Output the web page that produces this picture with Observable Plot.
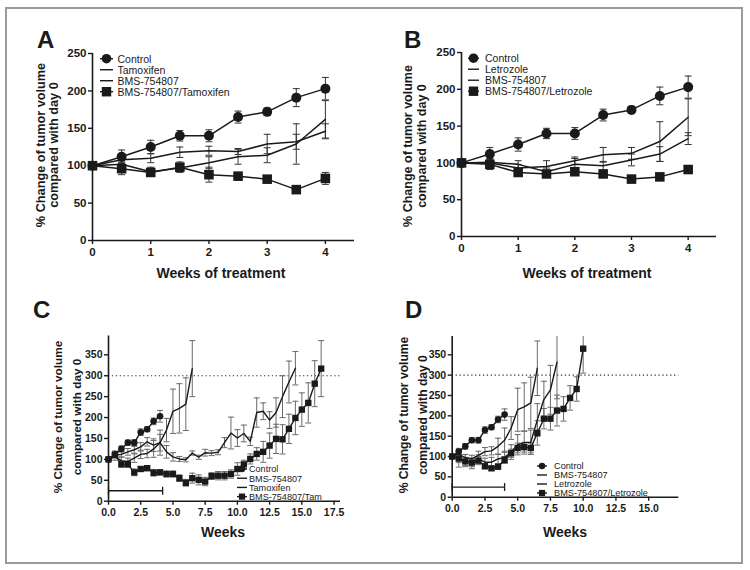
<!DOCTYPE html>
<html><head><meta charset="utf-8">
<script src="https://cdn.jsdelivr.net/npm/d3@7"></script>
<script src="https://cdn.jsdelivr.net/npm/@observablehq/plot@0.6"></script>
<style>
html,body{margin:0;padding:0;background:#fff}
#root{position:relative;width:750px;height:570px;overflow:hidden;font-family:"Liberation Sans",Arial,Helvetica,sans-serif}
#frame{position:absolute;left:5px;top:7px;width:734px;height:553px;border:2px solid #9a9a9a}
#overlay{position:absolute;left:0;top:0;pointer-events:none}
</style></head><body><div id="root"><div id="frame"></div></div>
<script>
// ---------- data ----------
const weeks4 = [0,0.5,1,1.5,2,2.5,3,3.5,4];
const control = [100,112,125,140,140,165,172,191,203];
const controlErr = [0,9,9,7,8,8,5,12,15];

const A_tamoxifen = [100,108,110,118,120,119,129,132,146];
const A_tamoxifenErr = [0,5,6,7,6,4,13,10,10];
const A_bms = [100,102,92,97,104,112,114,129,162];
const A_bmsErr = [0,4,6,5,8,10,10,27,25];
const A_combo = [100,96,91,98,88,86,82,68,83];
const A_comboErr = [0,8,3,7,10,3,3,5,8];

const B_letrozole = [100,101,98,88,98,96,104,112,133];
const B_letrozoleErr = [0,5,5,5,8,6,8,10,8];
const B_bms = [100,100,93,95,103,111,113,129,162];
const B_bmsErr = [0,5,5,8,5,10,8,27,25];
const B_combo = [100,98,87,85,88,85,78,81,91];
const B_comboErr = [0,7,4,4,3,4,4,3,3];

const weeksBms = [0,0.5,1,1.5,2,2.5,3,3.5,4,4.5,5,5.5,6,6.5];
const bmsLong = [100,106,97,95,103,112,114,125,140,170,215,222,232,317];
const bmsLongErr = [0,8,8,8,10,10,10,20,30,28,53,59,63,67];
const controlLongErr = [0,8,7,6,7,8,6,8,14];

const weeksTam = [0,0.5,1,1.5,2,2.5,3,3.5,4,4.5,5,5.5,6,6.5,7,7.5,8,8.5,9,9.5,10,10.5,11,11.5,12,12.5,13,13.5,14,14.5];
const C_tamoxifen = [100,110,112,118,123,130,142,134,140,118,106,101,99,115,105,116,115,117,140,163,151,162,143,212,215,194,212,250,285,318];
const C_tamoxifenErr = [0,6,6,8,8,10,10,15,20,15,10,6,5,5,5,8,6,6,12,38,20,20,10,35,20,20,35,50,50,40];

const weeksComboC = [0,0.5,1,1.5,2,2.5,3,3.5,4,4.5,5,5.5,6,6.5,7,7.5,8,8.5,9,9.5,10,10.5,11,11.5,12,12.5,13,13.5,14,14.5,15,15.5,16,16.5];
const C_combo = [100,111,88,88,69,77,79,68,69,65,65,55,44,55,51,47,60,61,61,65,77,88,101,113,118,133,149,148,173,199,219,235,281,317];
const C_comboErr = [0,6,6,6,8,6,6,8,6,7,7,8,8,12,12,10,8,10,10,10,15,10,12,15,25,30,35,35,35,40,40,48,55,67];

const weeksLet = [0,0.5,1,1.5,2,2.5,3,3.5,4,4.5,5,5.5,6,6.5,7,7.5,8];
const D_letrozole = [100,94,90,82,94,86,86,94,98,111,129,134,135,190,240,264,332];
const D_letrozoleErr = [0,20,15,12,10,10,12,12,15,18,25,28,30,40,45,60,90];

const weeksComboD = [0,0.5,1,1.5,2,2.5,3,3.5,4,4.5,5,5.5,6,6.5,7,7.5,8,8.5,9,9.5,10];
const D_combo = [100,95,88,85,90,76,71,75,92,108,121,123,121,158,193,193,213,217,244,266,365];
const D_comboErr = [0,10,10,10,10,6,5,6,8,10,12,12,12,30,25,28,38,30,30,30,60];

const threshold = 300;
const treatmentLevel = 25;
const treatmentC = [0, 4.2];
const treatmentD = [0, 4.0];

const ticksAB_x = [0,1,2,3,4];
const ticksAB_y = [0,50,100,150,200,250];
const ticksC_x = [0,2.5,5,7.5,10,12.5,15,17.5];
const ticksD_x = [0,2.5,5,7.5,10,12.5,15];
const ticksCD_y = [0,50,100,150,200,250,300,350];

// ---------- drawing ----------
const INK = "#1a1a1a";
const root = document.getElementById("root");
const hline = {draw(c,s){const w=Math.sqrt(s/Math.PI);c.moveTo(-w,0);c.lineTo(w,0);}};
const vline = {draw(c,s){const w=Math.sqrt(s/Math.PI);c.moveTo(0,-w);c.lineTo(0,w);}};
function table(x,y,e){return x.map((w,i)=>({w,v:y[i],e:e[i]}));}

function panel(cfg){
  const m=[];
  if(cfg.threshold!=null) m.push(Plot.ruleY([cfg.threshold],{stroke:"#333",strokeWidth:1.2,strokeDasharray:"1.3,2.6"}));
  if(cfg.treatment){
    const t=[{a:cfg.treatment[0],b:cfg.treatment[1],y:treatmentLevel}];
    m.push(Plot.ruleY(t,{y:"y",x1:"a",x2:"b",stroke:INK,strokeWidth:1.3}));
    m.push(Plot.dot(cfg.treatment,{x:d=>d,y:()=>treatmentLevel,symbol:vline,r:4,stroke:INK,strokeWidth:1.3}));
  }
  for(const s of cfg.series){
    const d=table(s.x,s.y,s.e).filter(r=>r.e>0);
    const o={x:"w",stroke:cfg.errColor,strokeWidth:1,clip:true};
    m.push(Plot.ruleX(d,{...o,y1:r=>r.v-r.e,y2:r=>r.v+r.e}));
    m.push(Plot.dot(d,{...o,y:r=>r.v+r.e,symbol:hline,r:cfg.cap,fill:"none"}));
    m.push(Plot.dot(d,{...o,y:r=>r.v-r.e,symbol:hline,r:cfg.cap,fill:"none"}));
  }
  for(const s of cfg.series){
    const d=table(s.x,s.y,s.e);
    m.push(Plot.line(d,{x:"w",y:"v",stroke:INK,strokeWidth:cfg.lw,clip:true}));
    if(s.symbol) m.push(Plot.dot(d,{x:"w",y:"v",symbol:s.symbol,r:s.symbol==="square"?cfg.sq:cfg.circ,fill:INK,stroke:"none"}));
  }
  m.push(Plot.ruleX([0],{stroke:INK,strokeWidth:1.6}));
  m.push(Plot.ruleY([0],{stroke:INK,strokeWidth:1.6}));
  m.push(Plot.axisY({ticks:cfg.yTicks,tickSize:4,tickPadding:2,tickFormat:d3.format("d"),label:null,strokeWidth:1.4}));
  m.push(Plot.axisX({ticks:cfg.xTicks,tickSize:4,tickPadding:3,tickFormat:cfg.xFormat,label:null,strokeWidth:1.4}));
  const svg=Plot.plot({
    width:cfg.W,height:cfg.H,
    marginLeft:cfg.ml,marginRight:cfg.mr,marginTop:cfg.mt,marginBottom:cfg.mb,
    x:{domain:cfg.xDomain},y:{domain:cfg.yDomain},
    style:{fontFamily:"Liberation Sans, Arial, sans-serif",fontSize:cfg.fs,fontWeight:"bold",color:INK,background:"transparent",overflow:"visible"},
    marks:m
  });
  svg.style.position="absolute";svg.style.left=cfg.left+"px";svg.style.top=cfg.top+"px";
  root.appendChild(svg);
}

panel({left:0,top:20,W:375,H:262,ml:92,mr:21,mt:33,mb:42,xDomain:[0,4.5],yDomain:[0,250],
  xTicks:ticksAB_x,yTicks:ticksAB_y,xFormat:d3.format("d"),fs:"11.5px",errColor:"#333",cap:3.5,lw:1.5,circ:5,sq:5.4,
  series:[
    {x:weeks4,y:control,e:controlErr,symbol:"circle"},
    {x:weeks4,y:A_tamoxifen,e:A_tamoxifenErr},
    {x:weeks4,y:A_bms,e:A_bmsErr},
    {x:weeks4,y:A_combo,e:A_comboErr,symbol:"square"}]});

panel({left:375,top:20,W:375,H:262,ml:86,mr:34,mt:32,mb:46,xDomain:[0,4.5],yDomain:[0,250],
  xTicks:ticksAB_x,yTicks:ticksAB_y,xFormat:d3.format("d"),fs:"11.5px",errColor:"#333",cap:3.5,lw:1.5,circ:5,sq:5.4,
  series:[
    {x:weeks4,y:control,e:controlErr,symbol:"circle"},
    {x:weeks4,y:B_letrozole,e:B_letrozoleErr},
    {x:weeks4,y:B_bms,e:B_bmsErr},
    {x:weeks4,y:B_combo,e:B_comboErr,symbol:"square"}]});

panel({left:0,top:300,W:375,H:240,ml:108,mr:35,mt:35.5,mb:39.3,xDomain:[0,18],yDomain:[0,395],
  xTicks:ticksC_x,yTicks:ticksCD_y,xFormat:d3.format(".1f"),fs:"10.5px",errColor:"#6a6a6a",cap:3,lw:1.4,circ:3.3,sq:3.6,
  threshold:threshold,treatment:treatmentC,
  series:[
    {x:weeks4,y:control,e:controlLongErr,symbol:"circle"},
    {x:weeksBms,y:bmsLong,e:bmsLongErr},
    {x:weeksTam,y:C_tamoxifen,e:C_tamoxifenErr},
    {x:weeksComboC,y:C_combo,e:C_comboErr,symbol:"square"}]});

panel({left:375,top:300,W:375,H:240,ml:76.7,mr:71.7,mt:36,mb:43.3,xDomain:[0,17.3],yDomain:[0,395],
  xTicks:ticksD_x,yTicks:ticksCD_y,xFormat:d3.format(".1f"),fs:"10.5px",errColor:"#6a6a6a",cap:3,lw:1.4,circ:3.3,sq:3.6,
  threshold:threshold,treatment:treatmentD,
  series:[
    {x:weeks4,y:control,e:controlLongErr,symbol:"circle"},
    {x:weeksBms,y:bmsLong,e:bmsLongErr},
    {x:weeksLet,y:D_letrozole,e:D_letrozoleErr},
    {x:weeksComboD,y:D_combo,e:D_comboErr,symbol:"square"}]});

// ---------- text overlay ----------
const ov=d3.select(root).append("svg").attr("id","overlay").attr("width",750).attr("height",570)
  .style("font-family","Liberation Sans, Arial, sans-serif").style("fill",INK);
function t(x,y,s,size,weight,anchor){return ov.append("text").attr("x",x).attr("y",y).attr("font-size",size)
  .attr("font-weight",weight||"normal").attr("text-anchor",anchor||"start").text(s);}
t(37,48,"A",24,"bold");t(404,48,"B",24,"bold");t(33,318,"C",24,"bold");t(405,318,"D",24,"bold");
t(221,278,"Weeks of treatment",14,"bold","middle");
t(587,278,"Weeks of treatment",14,"bold","middle");
t(223,537,"Weeks",14,"bold","middle");
t(565,537,"Weeks",14,"bold","middle");
function ylab(b1,b2,cy,size){
  ov.append("text").attr("transform",`translate(${b1},${cy}) rotate(-90)`).attr("text-anchor","middle").attr("font-size",size).attr("font-weight","bold").text("% Change of tumor volume");
  ov.append("text").attr("transform",`translate(${b2},${cy}) rotate(-90)`).attr("text-anchor","middle").attr("font-size",size).attr("font-weight","bold").text("compared with day 0");
}
ylab(45,58,145,12.7);
ylab(411.5,425.5,146,12.5);
ylab(61.5,81,417,11.8);
ylab(408,426.5,415,12.1);

function legend(items,mx,segL,segR,tx,baselines,size,r,sq){
  items.forEach((it,i)=>{
    const cy=baselines[i]-size*0.36;
    ov.append("line").attr("x1",segL).attr("x2",segR).attr("y1",cy).attr("y2",cy).attr("stroke",INK).attr("stroke-width",1.4);
    if(it.kind==="circle") ov.append("circle").attr("cx",mx).attr("cy",cy).attr("r",r).attr("fill",INK);
    if(it.kind==="square") ov.append("rect").attr("x",mx-sq/2).attr("y",cy-sq/2).attr("width",sq).attr("height",sq).attr("fill",INK);
    t(tx,baselines[i],it.label,size,"normal");
  });
}
legend([{label:"Control",kind:"circle"},{label:"Tamoxifen"},{label:"BMS-754807"},{label:"BMS-754807/Tamoxifen",kind:"square"}],
  106.5,100,113,117.5,[62.5,73.5,84.5,95.5],10.5,4.8,9.4);
legend([{label:"Control",kind:"circle"},{label:"Letrozole"},{label:"BMS-754807"},{label:"BMS-754807/Letrozole",kind:"square"}],
  473.5,468,479,485,[62,73,84,95],10.5,4.8,9.4);
legend([{label:"Control",kind:"circle"},{label:"BMS-754807"},{label:"Tamoxifen"},{label:"BMS-754807/Tam",kind:"square"}],
  242,237,247,249,[472.3,481.5,490.7,499.9],9.1,3.2,6.2);
legend([{label:"Control",kind:"circle"},{label:"BMS-754807"},{label:"Letrozole"},{label:"BMS-754807/Letrozole",kind:"square"}],
  542,537,547,554,[469.3,478.3,487.3,496.3],9.2,3.2,6.2);
</script></body></html>
